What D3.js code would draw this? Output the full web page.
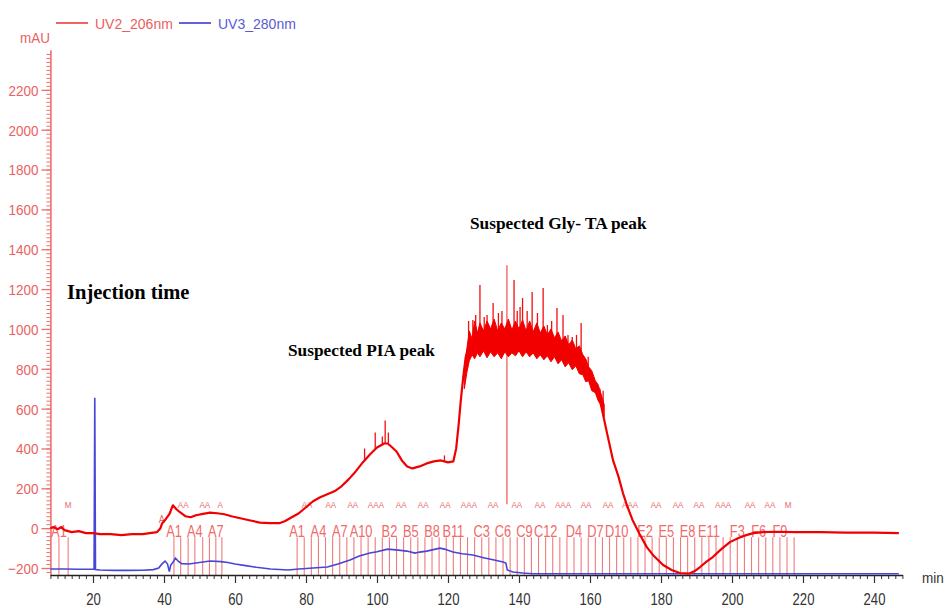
<!DOCTYPE html>
<html>
<head>
<meta charset="utf-8">
<script src="https://cdn.jsdelivr.net/npm/d3@7"></script>
<style>
  body { margin: 0; background: white; }
  svg { display: block; }
</style>
</head>
<body>
<script>
// chromatogram: UV2 206nm (red) and UV3 280nm (blue), with fraction marks

// UV2_206nm trace [min, mAU]
const uv2 = [[8,0],[9,5],[10,-5],[11,5],[12,-10],[14,-20],[16,-15],[18,-25],[20,-25],[22,-30],[25,-30],[28,-35],
  [31,-30],[34,-30],[36,-25],[38,-20],[39,0],[39.5,25],[40.5,45],[41.5,70],[42.5,115],[43.5,95],[44.5,80],[46,60],
  [47.5,55],[49,65],[51,72],[53,78],[55,75],[57,70],[59,60],[61.5,50],[64,40],[67,28],[70,25],[72.5,25],[74,35],
  [76,55],[78,75],[80,105],[82,135],[84,155],[86,170],[88,185],[90,210],[92,245],[94,285],[96,330],[98,370],
  [100,405],[102,425],[103,425],[104,410],[105.5,385],[107,340],[108.5,310],[110,300],[112,310],[114,325],
  [116,335],[118,340],[120,330],[121.5,335],[122.3,400],[123,520],[123.6,640],[124.3,760],[125,860],[126,920],
  [128,945],[130,950],[133,950],[136,945],[140,950],[143,940],[146,930],[149,915],[152,895],[155,860],[157,835],
  [159,800],[161,730],[162.8,643],[164.8,477],[166.5,340],[168,260],[169.3,175],[170.5,110],[172,40],[174,-30],
  [176,-95],[178,-140],[180.6,-185],[183,-210],[185.3,-225],[188,-228],[189.5,-215],[191,-195],[193,-165],
  [194.6,-145],[197,-105],[199.4,-70],[202,-48],[204,-35],[206,-25],[208.7,-20],[212,-18],[218,-20],[225,-20],
  [232,-22],[240,-22],[247,-25]];

// dense noisy band of UV2 [min, low, high]
const uv2Band = [[124.6,700,800],[125.3,780,900],[126,840,990],[126.8,870,950],[127.5,850,1040],[128.3,880,980],
  [129,860,1030],[130,890,990],[131,855,1040],[132,885,1000],[133,860,1050],[134,880,990],[135,850,1030],
  [136,885,1000],[137,860,1050],[138,880,995],[139,865,1040],[140,890,1000],[141,860,1045],[142,885,990],
  [143,860,1040],[144,880,985],[145,850,1030],[146,870,980],[147,845,1015],[148,865,970],[149,835,1000],
  [150,860,955],[151,825,985],[152,845,940],[153,810,965],[154,830,920],[155,795,945],[156,815,900],
  [157,775,915],[158,770,870],[158.8,735,850],[159.6,740,810],[160.5,690,790],[161.5,680,740],[162.3,640,720],
  [163,620,680],[164,560,620]];

// sharp spikes on UV2 [min, top mAU]
const uv2Spikes = [[96.5,400],[99.5,480],[101.5,460],[102.3,540],[103.2,480],[119,365],
  [125.8,1040],[127,1045],[127.8,1070],[129,1220],[130.2,1060],[131,1070],[132.7,1130],[134.2,1080],
  [135.2,1090],[138.6,1245],[139.5,1090],[140.3,1110],[141,1155],[142.3,1090],[143.7,1185],[145.2,1080],
  [146.8,1205],[148,1020],[149.2,1040],[150.7,1105],[152.4,1070],[153.8,970],[155,960],[156.2,970],
  [157.5,1030],[159.5,860],[160,800],[162.8,700],[163.7,690]];

// UV3_280nm trace [min, mAU]
const uv3 = [[8,-205],[12,-205],[16,-206],[20.3,-206],[20.5,655],[20.7,-208],[22,-210],[26,-212],[30,-212],
  [34,-211],[37,-208],[38.5,-200],[39.5,-178],[40.3,-165],[41,-180],[41.5,-218],[41.9,-185],[42.6,-170],
  [43.2,-150],[44,-165],[45,-178],[47,-180],[50,-172],[53,-165],[56,-168],[58,-172],[60,-180],[63,-188],
  [66,-196],[70,-205],[75,-210],[78,-205],[82,-200],[86,-195],[89,-180],[92.4,-160],[95,-140],[98,-125],
  [100,-118],[103,-105],[106,-110],[108.4,-115],[110.7,-125],[112,-120],[114,-115],[117.7,-100],[119,-105],
  [121.4,-120],[124,-128],[127,-135],[130,-148],[133,-160],[135.5,-170],[136.3,-175],[136.7,-210],
  [138.3,-220],[141,-225],[144,-229],[160,-229],[190,-229],[220,-229],[247,-229]];

// event line at the tallest spike
const eventMark = [136.6, 120, 1320];

// fraction collection times (min)
const fracTimes = [10.4, 13.0,
  42.8, 44.7, 46.8, 48.7, 50.9, 52.8, 54.6, 56.3,
  77.5, 79.5, 81.5, 83.5, 85.5, 87.5, 89.5, 91.5, 93.5, 95.5, 97.5, 99.5,
  101.5, 103.5, 105.5, 107.5, 109.5, 111.5, 113.5, 115.5, 117.5, 119.5, 121.5, 123.5,
  125.5, 127.5, 129.5, 131.5, 133.5, 135.5, 137.5, 139.5, 141.5, 143.5, 145.5, 147.5,
  149.5, 151.5, 153.5, 155.5, 157.5, 159.5, 161.5, 163.5, 165.5, 167.5, 169.5, 171.5,
  173.5, 175.5, 177.5, 179.5, 181.5, 183.5, 185.5, 187.5, 189.5, 191.5, 193.5, 195.5,
  197.5, 199.5, 201.5, 203.5, 205.5, 207.5, 209.5, 211.5, 213.5, 215.5, 217.5];
const fracNames = ["A1", "A1", "A4", "A7", "A1", "A4", "A7", "A10", "B2", "B5", "B8", "B11",
  "C3", "C6", "C9", "C12", "D4", "D7", "D10", "E2", "E5", "E8", "E11", "F3", "F6", "F9"];
const fracNameTimes = [10.4, 42.8, 48.7, 54.6, 77.5, 83.5, 89.5, 95.5, 103.5, 109.5, 115.5, 121.5,
  129.5, 135.5, 141.5, 147.5, 155.5, 161.5, 167.5, 175.5, 181.5, 187.5, 193.5, 201.5, 207.5, 213.5];

// small peak marks above the fractions
const markTimes = [13.0, 45.4, 51.5, 55.8, 80.3, 87.0, 93.2, 99.7, 106.8, 113.0, 119.2, 125.9, 132.7,
  139.4, 145.9, 152.4, 158.9, 165.1, 171.3, 178.6, 184.8, 190.7, 197.5, 205.1, 210.7, 215.8];
const markTexts = ["M", "AA", "AA", "A", "AA", "AA", "AA", "AAA", "AA", "AA", "AA", "AAA", "AA",
  "AA", "AA", "AAA", "AA", "AA", "AAA", "AA", "AA", "AA", "AAA", "AA", "AA", "M"];

const xTicks = [20, 40, 60, 80, 100, 120, 140, 160, 180, 200, 220, 240];
const yTicks = [-200, 0, 200, 400, 600, 800, 1000, 1200, 1400, 1600, 1800, 2000, 2200];

const w = 949, h = 608;
const axisRed = "#ef6e6e";
const labelRed = "#ea5f5f";

const svg = d3.select("body").append("svg")
  .attr("width", w).attr("height", h)
  .style("font-family", "'Liberation Sans', Arial, sans-serif");

const x = d3.scaleLinear().domain([8, 248]).range([50.4, 902.4]);
const y = d3.scaleLinear().domain([-235, 2400]).range([575, 50]);

// condensed text helper
function ctext(g, tx, ty, str, size, sx, color, anchor) {
  return g.append("text")
    .attr("transform", `translate(${tx},${ty}) scale(${sx},1)`)
    .attr("text-anchor", anchor || "start")
    .attr("font-size", size)
    .attr("fill", color)
    .text(str);
}

// fraction lines
svg.append("g").selectAll("line")
  .data(fracTimes).enter().append("line")
  .attr("x1", d => x(d)).attr("x2", d => x(d))
  .attr("y1", y(-45)).attr("y2", y(-235))
  .attr("stroke", "#f07a7a").attr("stroke-width", 1.1);

const fl = svg.append("g");
fracNames.forEach((n, i) => ctext(fl, x(fracNameTimes[i]), y(-42), n, 16, 0.8, "#f06a6a", "middle"));

const mk = svg.append("g");
markTimes.forEach((t, i) => ctext(mk, x(t), y(100), markTexts[i], 9, 0.9, "#e86a6a", "middle"));
ctext(mk, x(39.4), y(25), "A", 10, 0.9, "#e86a6a", "middle");

// y axis (red)
const yMinor = d3.range(-220, 2400, 20);
svg.append("g").attr("transform", "translate(50.4,0)")
  .call(d3.axisLeft(y).tickValues(yMinor).tickSize(4).tickFormat("").tickSizeOuter(0))
  .call(g => g.selectAll("line,path").attr("stroke", axisRed));
const yAx = svg.append("g").attr("transform", "translate(50.4,0)")
  .call(d3.axisLeft(y).tickValues(yTicks).tickSize(9).tickSizeOuter(0).tickFormat(d3.format("d")))
  .call(g => g.select(".domain").attr("stroke", axisRed).attr("stroke-width", 1.3))
  .call(g => g.selectAll(".tick line").attr("stroke", axisRed).attr("stroke-width", 1.3));
yAx.selectAll(".tick text")
  .attr("x", -12 / 0.9).attr("dy", "0.36em")
  .attr("transform", "scale(0.9,1)")
  .attr("font-size", 15).attr("fill", labelRed)
  .attr("font-family", "'Liberation Sans', Arial, sans-serif");

// x axis
const xMinor = d3.range(8, 249, 2);
svg.append("g").attr("transform", "translate(0,575)")
  .call(d3.axisBottom(x).tickValues(xMinor).tickSize(4).tickFormat("").tickSizeOuter(0))
  .call(g => g.selectAll("line,path").attr("stroke", "#333"));
const xAx = svg.append("g").attr("transform", "translate(0,575)")
  .call(d3.axisBottom(x).tickValues(xTicks).tickSize(8).tickSizeOuter(0))
  .call(g => g.select(".domain").attr("stroke", "#222").attr("stroke-width", 1.5))
  .call(g => g.selectAll(".tick line").attr("stroke", "#333").attr("stroke-width", 1.2));
xAx.selectAll(".tick text")
  .attr("y", 30).attr("dy", 0)
  .attr("transform", "scale(0.82,1)")
  .attr("font-size", 16).attr("fill", "#333")
  .attr("font-family", "'Liberation Sans', Arial, sans-serif");
ctext(svg, 922, 583, "min", 15, 0.9, "#333");

// traces
const line = d3.line().x(d => x(d[0])).y(d => y(d[1]));

svg.append("path").datum(uv3)
  .attr("d", line).attr("fill", "none")
  .attr("stroke", "#4646d8").attr("stroke-width", 1.6);

svg.append("line")
  .attr("x1", x(eventMark[0])).attr("x2", x(eventMark[0]))
  .attr("y1", y(eventMark[1])).attr("y2", y(eventMark[2]))
  .attr("stroke", "#f05050").attr("stroke-width", 1.2);

function interp(data, t) {
  const i = d3.bisector(d => d[0]).left(data, t);
  if (i <= 0) return data[0][1];
  if (i >= data.length) return data[data.length - 1][1];
  const a = data[i - 1], b = data[i];
  return a[1] + (b[1] - a[1]) * (t - a[0]) / (b[0] - a[0]);
}

svg.append("g").selectAll("line")
  .data(uv2Spikes).enter().append("line")
  .attr("x1", d => x(d[0])).attr("x2", d => x(d[0]))
  .attr("y1", d => y(interp(uv2, d[0]))).attr("y2", d => y(d[1]))
  .attr("stroke", "#f01010").attr("stroke-width", 1.3);

svg.append("path").datum(uv2)
  .attr("d", line).attr("fill", "none")
  .attr("stroke", "#f00000").attr("stroke-width", 2.2)
  .attr("stroke-linejoin", "round");

svg.append("path").datum(uv2Band)
  .attr("d", d3.area().x(d => x(d[0])).y0(d => y(d[1])).y1(d => y(d[2])))
  .attr("fill", "#f20000").attr("stroke", "#f20000").attr("stroke-width", 1);

// legend
ctext(svg, 20, 43, "mAU", 15, 0.9, labelRed);
svg.append("line").attr("x1", 56).attr("x2", 88).attr("y1", 23).attr("y2", 23)
  .attr("stroke", "#f06464").attr("stroke-width", 2);
ctext(svg, 95, 29, "UV2_206nm", 14, 1, labelRed);
svg.append("line").attr("x1", 179).attr("x2", 211).attr("y1", 23).attr("y2", 23)
  .attr("stroke", "#6262dc").attr("stroke-width", 2);
ctext(svg, 218, 29, "UV3_280nm", 14, 1, "#5a5ad4");

// annotations
const serif = "'Liberation Serif', 'Times New Roman', serif";
svg.append("text").attr("x", 67).attr("y", 299).text("Injection time")
  .attr("font-family", serif).attr("font-weight", "bold").attr("font-size", 20.5);
svg.append("text").attr("x", 288).attr("y", 356).text("Suspected PIA peak")
  .attr("font-family", serif).attr("font-weight", "bold").attr("font-size", 17.3);
svg.append("text").attr("x", 470).attr("y", 229).text("Suspected Gly- TA peak")
  .attr("font-family", serif).attr("font-weight", "bold").attr("font-size", 17.3);
</script>
</body>
</html>
